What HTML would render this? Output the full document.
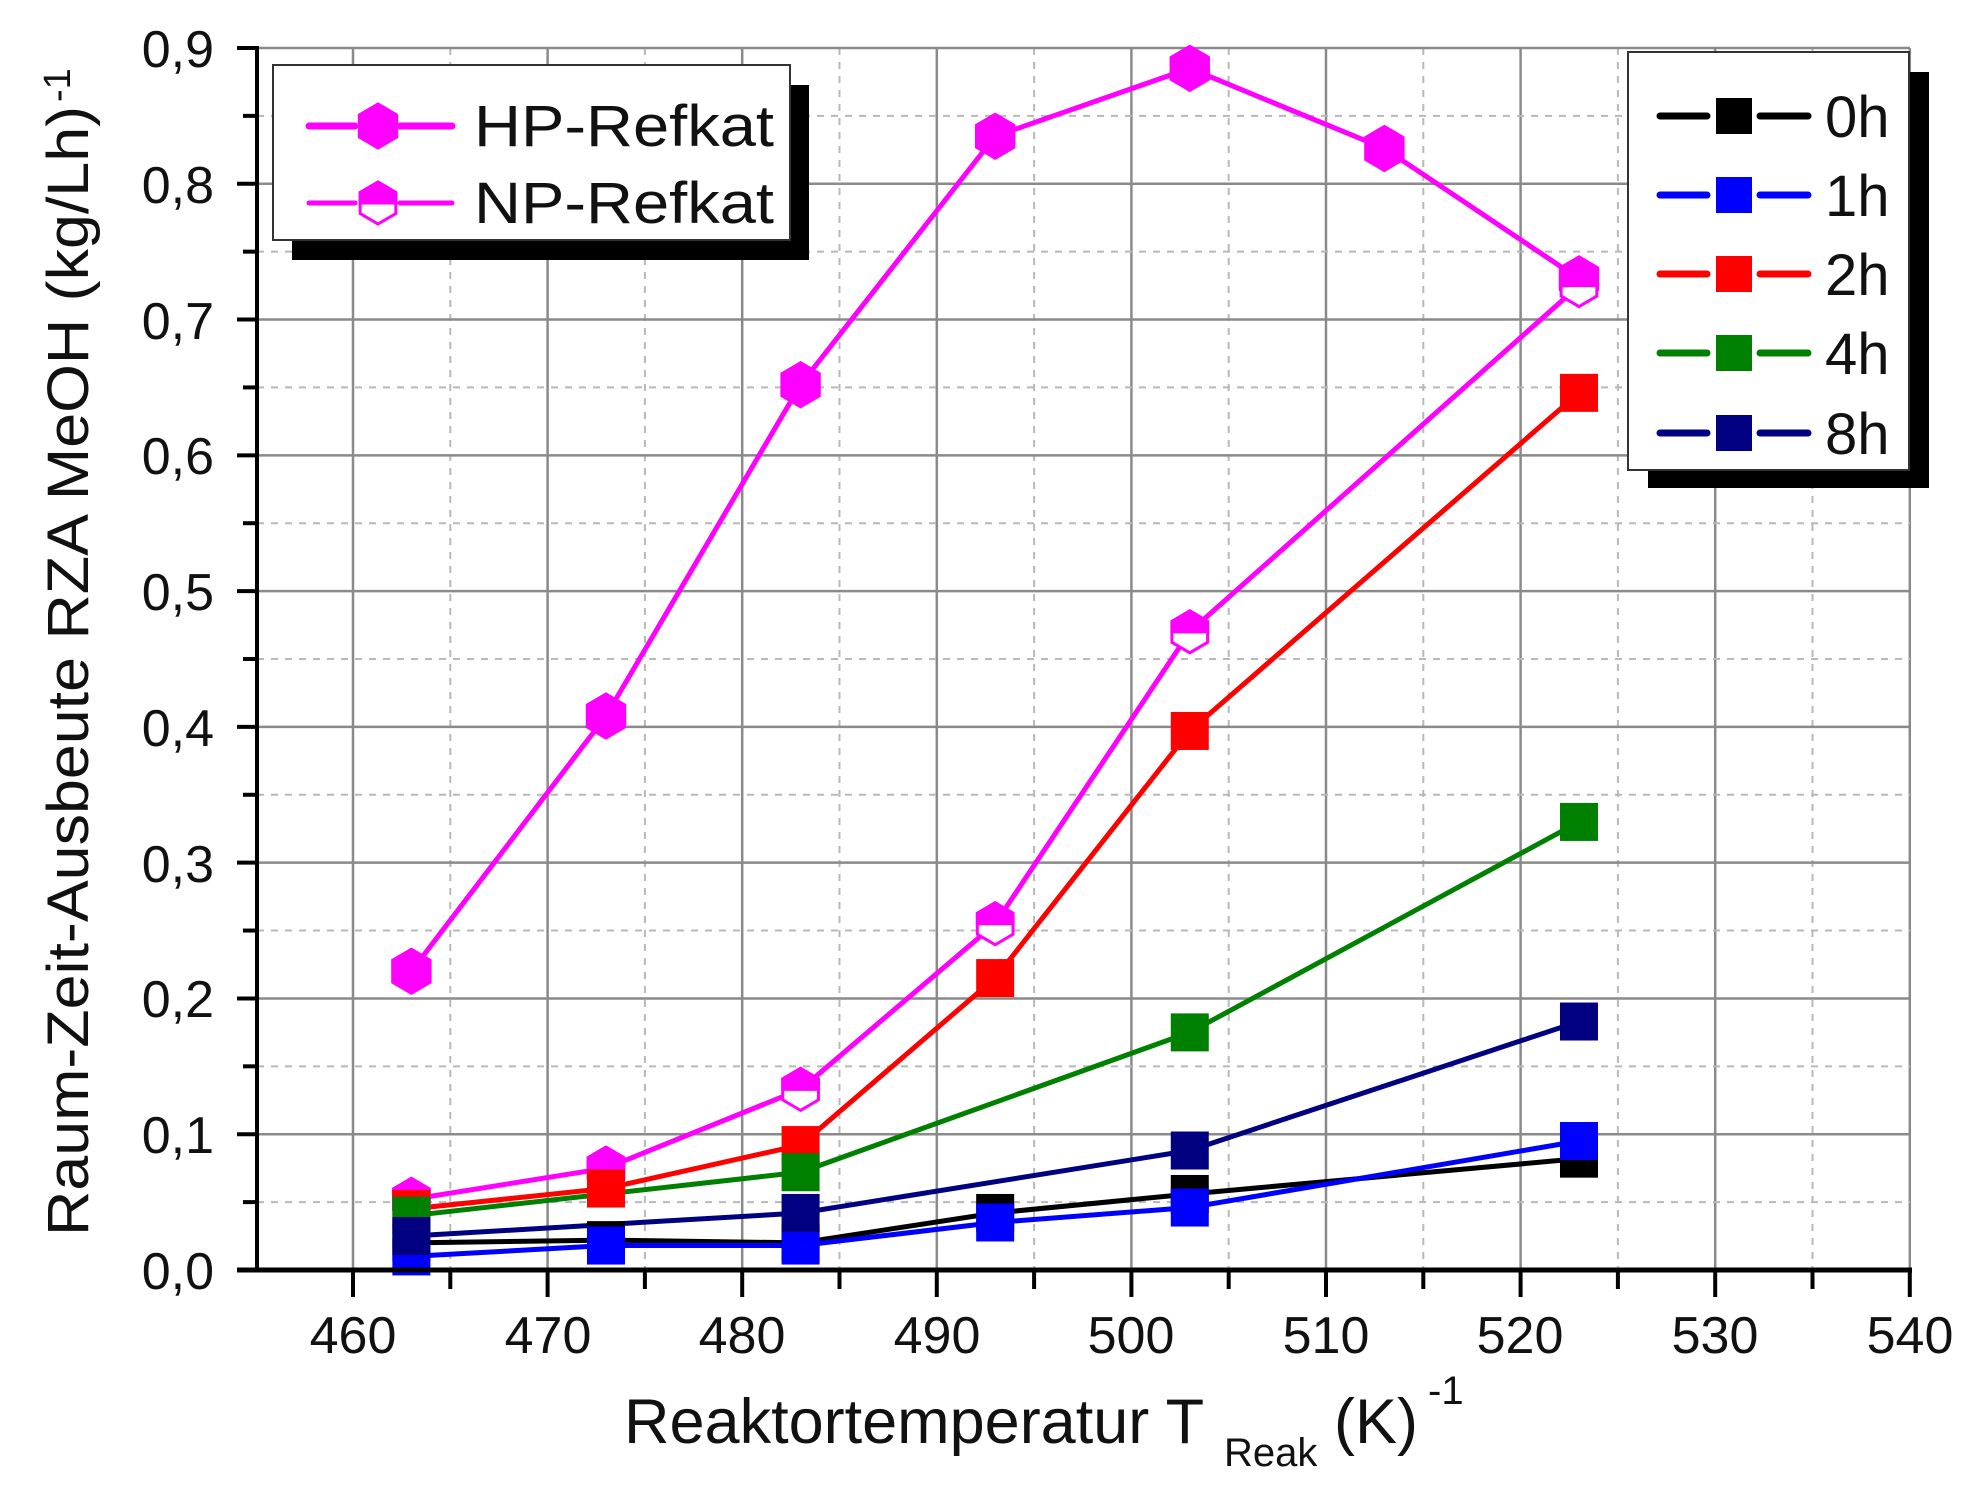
<!DOCTYPE html>
<html><head><meta charset="utf-8"><style>
html,body{margin:0;padding:0;background:#fff;}
svg{display:block;font-family:"Liberation Sans",Arial,sans-serif;}
</style></head><body>
<svg id="s" width="1968" height="1489" viewBox="0 0 1968 1489" xmlns="http://www.w3.org/2000/svg">
<g id="grid"></g>
<g id="series"></g>
<g id="axes"></g>
<g font-size="52" fill="#111" text-anchor="end">
<text x="214" y="1289">0,0</text>
<text x="214" y="1153">0,1</text>
<text x="214" y="1017">0,2</text>
<text x="214" y="882">0,3</text>
<text x="214" y="746">0,4</text>
<text x="214" y="610">0,5</text>
<text x="214" y="474">0,6</text>
<text x="214" y="339">0,7</text>
<text x="214" y="203">0,8</text>
<text x="214" y="67">0,9</text>
</g>
<g font-size="52" fill="#111" text-anchor="middle">
<text x="353" y="1353">460</text>
<text x="548" y="1353">470</text>
<text x="742" y="1353">480</text>
<text x="937" y="1353">490</text>
<text x="1131" y="1353">500</text>
<text x="1326" y="1353">510</text>
<text x="1520" y="1353">520</text>
<text x="1715" y="1353">530</text>
<text x="1910" y="1353">540</text>
</g>
<text x="624" y="1443" font-size="63" fill="#111">Reaktortemperatur T</text>
<text x="1224" y="1466" font-size="40" fill="#111">Reak</text>
<text x="1334" y="1443" font-size="63" fill="#111">(K)</text>
<text x="1428" y="1404" font-size="40" fill="#111">-1</text>
<text transform="translate(88,1236) rotate(-90)" font-size="58" fill="#111" textLength="1130" lengthAdjust="spacingAndGlyphs">Raum-Zeit-Ausbeute RZA MeOH (kg/Lh)</text>
<text transform="translate(70,102) rotate(-90)" font-size="38" fill="#111">-1</text>
<rect x="292" y="85" width="517" height="175" fill="#000"/>
<rect x="273" y="65" width="517" height="175" fill="#fff" stroke="#333" stroke-width="2"/>
<g id="leg1"></g>
<text x="474" y="146" font-size="58" fill="#111" textLength="300" lengthAdjust="spacingAndGlyphs">HP-Refkat</text>
<text x="474" y="223" font-size="58" fill="#111" textLength="300" lengthAdjust="spacingAndGlyphs">NP-Refkat</text>
<rect x="1648" y="72" width="281" height="416" fill="#000"/>
<rect x="1628" y="52" width="281" height="418" fill="#fff" stroke="#333" stroke-width="2"/>
<g id="leg2"></g>
<g font-size="58" fill="#111">
<text x="1825" y="137">0h</text>
<text x="1825" y="216">1h</text>
<text x="1825" y="295">2h</text>
<text x="1825" y="374">4h</text>
<text x="1825" y="454">8h</text>
</g>
</svg>
<script>
var NS="http://www.w3.org/2000/svg";
function X(t){return 353+(t-460)*19.46;}
function Y(v){return 1270-v*1357.8;}
function el(p,n,a){var e=document.createElementNS(NS,n);for(var k in a)e.setAttribute(k,a[k]);p.appendChild(e);return e;}
var g=document.getElementById('grid'),ax=document.getElementById('axes'),se=document.getElementById('series');
for(var t=460;t<=540;t+=5){var major=(t%10==0);
 el(g,'line',{x1:X(t),y1:48,x2:X(t),y2:1270,stroke:major?'#8a8a8a':'#b8b8b8','stroke-width':major?2.5:2,'stroke-dasharray':major?'':'7,7'});
 el(ax,'line',{x1:X(t),y1:1270,x2:X(t),y2:major?1297:1289,stroke:'#000','stroke-width':4});}
for(var i=1;i<=18;i++){var v=i*0.05,major=(i%2==0);
 el(g,'line',{x1:257,y1:Y(v),x2:1910,y2:Y(v),stroke:major?'#8a8a8a':'#b8b8b8','stroke-width':major?2.5:2,'stroke-dasharray':major?'':'7,7'});}
for(var i=0;i<=18;i++){var v=i*0.05,major=(i%2==0);
 el(ax,'line',{x1:major?237:243,y1:Y(v),x2:257,y2:Y(v),stroke:'#000','stroke-width':4});}
el(ax,'line',{x1:257,y1:46,x2:257,y2:1272,stroke:'#000','stroke-width':4});
el(ax,'line',{x1:237,y1:1270,x2:1912,y2:1270,stroke:'#000','stroke-width':5});
var S=[
 {c:'#000000',d:[[463,.02],[473,.022],[483,.02],[493,.042],[503,.056],[523,.082]]},
 {c:'#0000ff',d:[[463,.01],[473,.018],[483,.018],[493,.035],[503,.046],[523,.095]]},
 {c:'#ff0000',d:[[463,.045],[473,.06],[483,.092],[493,.215],[503,.397],[523,.646]]},
 {c:'#008000',d:[[463,.04],[483,.072],[503,.175],[523,.33]]},
 {c:'#000080',d:[[463,.025],[483,.042],[503,.088],[523,.183]]}];
var HP=[[463,.22],[473,.408],[483,.652],[493,.835],[503,.885],[513,.826],[523,.73]];
var NP=[[463,.052],[473,.075],[483,.133],[493,.255],[503,.47],[523,.725]];
function line(d,c,w){el(se,'polyline',{points:d.map(function(p){return X(p[0])+','+Y(p[1]);}).join(' '),fill:'none',stroke:c,'stroke-width':w});}
function hex(p,cx,cy,r,fill,stroke){var w=r*0.85,h=r;
 var pts=[[cx,cy-h],[cx+w,cy-h/2],[cx+w,cy+h/2],[cx,cy+h],[cx-w,cy+h/2],[cx-w,cy-h/2]];
 return el(p,'polygon',{points:pts.map(function(q){return q.join(',')}).join(' '),fill:fill,stroke:stroke,'stroke-width':3});}
function nphex(p,cx,cy,r){hex(p,cx,cy,r,'#fff','#ff00ff');var w=r*0.85;
 el(p,'polygon',{points:[[cx,cy-r],[cx+w,cy-r/2],[cx+w,cy],[cx-w,cy],[cx-w,cy-r/2]].map(function(q){return q.join(',')}).join(' '),fill:'#ff00ff',stroke:'#ff00ff','stroke-width':3});}
line(HP,'#ff00ff',5);line(NP,'#ff00ff',5);
S.forEach(function(s){line(s.d,s.c,5);});
HP.forEach(function(p){hex(se,X(p[0]),Y(p[1]),22,'#ff00ff','#ff00ff');});
NP.forEach(function(p){nphex(se,X(p[0]),Y(p[1]),21);});
S.forEach(function(s){s.d.forEach(function(p){el(se,'rect',{x:X(p[0])-19,y:Y(p[1])-19,width:38,height:38,fill:s.c});});});
var l1=document.getElementById('leg1');
[[126,0],[203,1]].forEach(function(r){
 el(l1,'line',{x1:309,y1:r[0],x2:355,y2:r[0],stroke:'#ff00ff','stroke-width':r[1]?5:7,'stroke-linecap':'round'});
 el(l1,'line',{x1:400,y1:r[0],x2:452,y2:r[0],stroke:'#ff00ff','stroke-width':r[1]?5:7,'stroke-linecap':'round'});
 if(r[1])nphex(l1,378,r[0],21);else hex(l1,378,r[0],22,'#ff00ff','#ff00ff');});
var l2=document.getElementById('leg2');
var cols=['#000000','#0000ff','#ff0000','#008000','#000080'],ys=[116,195,274,353,433];
for(var i=0;i<5;i++){
 el(l2,'line',{x1:1660,y1:ys[i],x2:1707,y2:ys[i],stroke:cols[i],'stroke-width':7,'stroke-linecap':'round'});
 el(l2,'line',{x1:1760,y1:ys[i],x2:1808,y2:ys[i],stroke:cols[i],'stroke-width':7,'stroke-linecap':'round'});
 el(l2,'rect',{x:1716,y:ys[i]-18,width:36,height:36,fill:cols[i]});}
</script>
</body></html>
